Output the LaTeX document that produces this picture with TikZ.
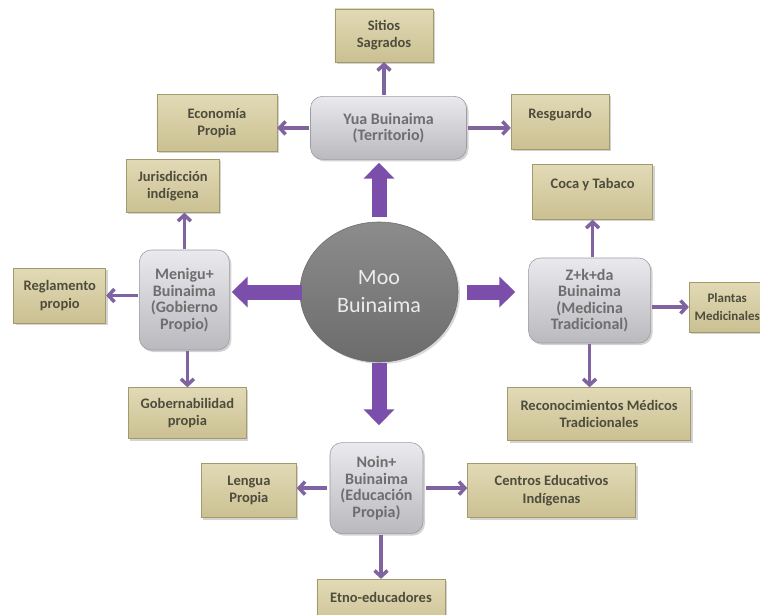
\documentclass[tikz,border=0pt]{standalone}
\usepackage{fontspec}
\setmainfont{Carlito}
\usetikzlibrary{%
  positioning, shapes.geometric, arrows.meta, shadows
}
\usepackage{xcolor}
\definecolor{tanlight}{HTML}{E2DAB6}
\definecolor{tandark}{HTML}{CAC092}
\definecolor{tanedge}{HTML}{A39A6C}
\definecolor{tantext}{HTML}{4E4C3C}
\definecolor{hublight}{HTML}{EAEAEE}
\definecolor{hubdark}{HTML}{B9B9BE}
\definecolor{hubedge}{HTML}{9C9CA2}
\definecolor{hubtext}{HTML}{6E6E6E}
\definecolor{corelight}{HTML}{8C8C8C}
\definecolor{coredark}{HTML}{6C6C6C}
\definecolor{linkpurple}{HTML}{8064A2}
\definecolor{bigpurple}{HTML}{7A4EAA}
\tikzstyle{leaf} = [%
  rectangle,
  draw=tanedge,
  line width=0.6pt,
  top color=tanlight,
  bottom color=tandark,
  align=center,
  inner sep=0pt,
  text=tantext,
  font=\bfseries\fontsize{14.5}{17.5}\selectfont,
  drop shadow={shadow xshift=2pt,shadow yshift=-2pt,opacity=0.35}
]
\tikzstyle{hub} = [%
  rectangle,
  rounded corners=12pt,
  draw=hubedge,
  line width=0.6pt,
  top color=hublight,
  bottom color=hubdark,
  align=center,
  inner sep=0pt,
  text=hubtext,
  font=\bfseries\fontsize{16}{16.5}\selectfont,
  drop shadow={shadow xshift=2pt,shadow yshift=-2pt,opacity=0.35}
]
\tikzstyle{core} = [%
  ellipse,
  draw=coredark,
  line width=0.6pt,
  top color=corelight,
  bottom color=coredark,
  align=center,
  inner sep=0pt,
  minimum width=158pt,
  minimum height=140pt,
  text=white!92!black,
  font=\fontsize{22}{28}\selectfont,
  drop shadow={shadow xshift=2pt,shadow yshift=-2pt,opacity=0.3}
]

\begin{document}
\begin{tikzpicture}[%
  link/.style={%
    draw=linkpurple,
    line width=3.5pt,
    -{Straight Barb[length=6pt,width=13pt]},
    shorten <=1pt
  },
  bigarrow/.style={%
    draw=bigpurple,
    line width=15pt,
    -{Triangle[length=16pt,width=30pt]}
  }
]
  \path[use as bounding box, clip] (-379pt,-322pt) rectangle (381pt,292pt);

  % Centre
  \node[core] (C) {Moo\\Buinaima};

  % Hubs
  \node[hub,minimum width=156pt,minimum height=63pt,above=62pt of C,xshift=9.5pt] (Y) {Yua Buinaima\\(Territorio)};
  \node[hub,minimum width=90pt,minimum height=100pt,left=70pt of C,yshift=-8pt] (M) {Menigu+\\Buinaima\\(Gobierno\\Propio)};
  \node[hub,minimum width=122pt,minimum height=85pt,right=70pt of C,yshift=-8.5pt] (Z) {Z+k+da\\Buinaima\\(Medicina\\Tradicional)};
  \node[hub,minimum width=93pt,minimum height=91pt,below=80pt of C,xshift=-2.5pt] (N) {Noin+\\Buinaima\\(Educación\\Propia)};

  % Leaves of Yua
  \node[leaf,minimum width=98pt,minimum height=53pt,above=34pt of Y,xshift=-4.5pt] (S) {Sitios\\Sagrados};
  \node[leaf,minimum width=120pt,minimum height=57pt,left=33pt of Y,yshift=5pt] (E) {Economía\\Propia};
  \node[leaf,minimum width=98pt,minimum height=55pt,right=44pt of Y,yshift=6pt] (Rs) {Resguardo\\\mbox{}};

  % Leaves of Menigu+
  \node[leaf,minimum width=93pt,minimum height=53pt,above=37pt of M,xshift=-11.5pt] (J) {Jurisdicción\\indígena};
  \node[leaf,minimum width=92pt,minimum height=55pt,left=33pt of M,yshift=4.5pt] (R) {Reglamento\\propio};
  \node[leaf,minimum width=118pt,minimum height=51pt,below=37pt of M,xshift=3pt] (G) {Gobernabilidad\\propia};

  % Leaves of Z+k+da
  \node[leaf,minimum width=120pt,minimum height=55pt,above=38pt of Z,xshift=3pt] (K) {Coca y Tabaco\\\mbox{}};
  \node[leaf,minimum width=76pt,minimum height=50pt,right=38pt of Z,yshift=-6.5pt,font=\bfseries\fontsize{13}{17.5}\selectfont] (P) {Plantas\\Medicinales};
  \node[leaf,minimum width=183pt,minimum height=53pt,below=44pt of Z,xshift=9.5pt] (Rm) {Reconocimientos Médicos\\Tradicionales};

  % Leaves of Noin+
  \node[leaf,minimum width=95pt,minimum height=54pt,left=33pt of N,yshift=-2.5pt] (L) {Lengua\\Propia};
  \node[leaf,minimum width=168pt,minimum height=54pt,right=44pt of N,yshift=-2.5pt] (Ce) {Centros Educativos\\Indígenas};
  \node[leaf,minimum width=128pt,minimum height=53pt,below=45pt of N,xshift=4.5pt] (Et) {Etno-educadores\\\mbox{}};

  % Block arrows
  \draw[bigarrow,shorten <=5pt,shorten >=3pt] (C.north) -- (C.north |- Y.south);
  \draw[bigarrow,shorten <=-2pt,shorten >=2pt] (C.west) -- (C.west -| M.east);
  \draw[bigarrow,shorten <=9pt,shorten >=13pt] (C.east) -- (C.east -| Z.west);
  \draw[bigarrow,shorten <=1pt,shorten >=17pt] (C.south) -- (C.south |- N.north);

  % Thin arrows
  \draw[link] (S.south |- Y.north) -- (S.south);
  \draw[link] (Y.west) -- (Y.west -| E.east);
  \draw[link] (Y.east) -- (Y.east -| Rs.west);
  \draw[link] (M.north) -- (M.north |- J.south);
  \draw[link] (R.east -| M.west) -- (R.east);
  \draw[link] (G.north |- M.south) -- (G.north);
  \draw[link] (K.south |- Z.north) -- (K.south);
  \draw[link] (P.west -| Z.east) -- (P.west);
  \draw[link] (Z.south) -- (Z.south |- Rm.north);
  \draw[link,shorten <=3pt] (N.west) -- (N.west -| L.east);
  \draw[link,shorten <=3pt] (N.east) -- (N.east -| Ce.west);
  \draw[link] (Et.north |- N.south) -- (Et.north);

\end{tikzpicture}
\end{document}
